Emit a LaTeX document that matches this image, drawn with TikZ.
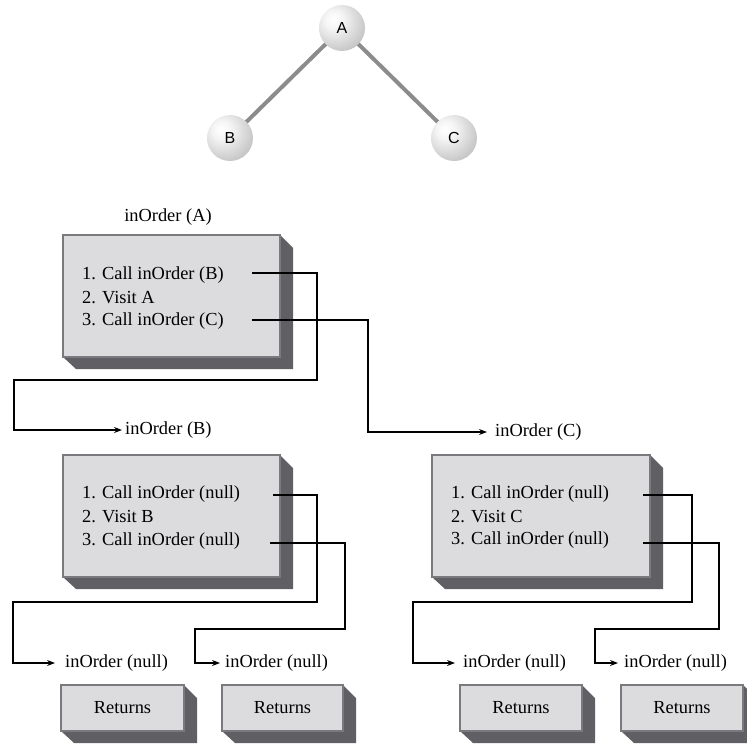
\documentclass[tikz,border=0pt]{standalone}
\usepackage{fontspec}
\setmainfont{Liberation Serif}
\newfontfamily\circfont{Liberation Sans}
\usetikzlibrary{arrows.meta,backgrounds}
\definecolor{facegray}{HTML}{DCDCDE}
\definecolor{edgegray}{HTML}{7A7A7E}
\definecolor{shadowc}{HTML}{5F5F64}
\definecolor{treeedge}{HTML}{8C8C8C}
\pgfdeclareradialshading{myball}{\pgfpoint{-10bp}{10bp}}{%
  color(0bp)=(white); color(10bp)=(white!96!black); color(30bp)=(gray!40); color(48bp)=(gray!68); color(60bp)=(gray!85); color(100bp)=(gray!85)}
\newcommand\ShBox[5]{%
  \fill[shadowc] (#4,#3) -- (#4+13,#3+13) -- (#4+13,#5+12) -- (#2+13,#5+12) -- (#2,#5) -- cycle;
  \node[face, anchor=north west, minimum width=#4-#2, minimum height=#5-#3] (#1) at (#2,#3) {};
}
\tikzset{
  face/.style={fill=facegray, draw=edgegray, line width=1.2pt, inner sep=0pt, outer sep=0pt},
  txt/.style={font=\fontsize{18.4}{22}\selectfont, inner sep=0pt, anchor=west},
  lbl/.style={font=\fontsize{18.4}{22}\selectfont, inner sep=0pt},
  conn/.style={line width=1.1pt, black},
  arr/.style={conn, -{Stealth[length=8pt,width=6pt]}},
  treenode/.style={circle, minimum size=46pt, inner sep=0pt, shading=myball, font=\circfont\fontsize{16}{18}\selectfont},
  treeline/.style={draw=treeedge, line width=4pt}
}
\begin{document}
\begin{tikzpicture}[x=1pt,y=-1pt]
\useasboundingbox (0,0) rectangle (747,744);
% tree
\node[treenode] (A) at (342,28) {A};
\node[treenode] (B) at (230,138) {B};
\node[treenode] (C) at (454,138) {C};
\begin{scope}[on background layer]
\draw[treeline] (A.center) -- (B.center);
\draw[treeline] (A.center) -- (C.center);
\end{scope}

% box A
\node[lbl] (labA) at (168,217) {inOrder (A)};
\ShBox{boxA}{63}{235}{280}{357}
\node[txt] (a1) at (82,275) {1. Call inOrder (B)};
\node[txt] (a2) at (82,298) {2. Visit A};
\node[txt] (a3) at (82,321) {3. Call inOrder (C)};
\coordinate (a1s) at (252,273);
\coordinate (a3s) at (252,320);

% labels B, C
\node[txt] (labB) at (125,430) {inOrder (B)};
\node[txt] (labC) at (495,432) {inOrder (C)};
\draw[arr] (a1s) -- (317,273) -- (317,380) -- (14,380) |- ([xshift=-3pt]labB.west);
\draw[arr] (a3s) -- (368,320) |- ([xshift=-8pt]labC.west);

% box B
\ShBox{boxB}{63}{455}{280}{577}
\node[txt] (b1) at (82,494) {1. Call inOrder (null)};
\node[txt] (b2) at (82,517) {2. Visit B};
\node[txt] (b3) at (82,541) {3. Call inOrder (null)};
\coordinate (b1s) at (273,495);
\coordinate (b3s) at (270,543);

% box C
\ShBox{boxC}{432}{455}{650}{577}
\node[txt] (c1) at (451,494) {1. Call inOrder (null)};
\node[txt] (c2) at (451,517) {2. Visit C};
\node[txt] (c3) at (451,540) {3. Call inOrder (null)};
\coordinate (c1s) at (643,495);
\coordinate (c3s) at (643,543);

% null labels
\node[txt] (nb1) at (65,663) {inOrder (null)};
\node[txt] (nb2) at (225,663) {inOrder (null)};
\node[txt] (nc1) at (463,663) {inOrder (null)};
\node[txt] (nc2) at (624,663) {inOrder (null)};
\draw[arr] (b1s) -- (317,495) -- (317,602) -- (13,602) |- ([xshift=-10pt]nb1.west);
\draw[arr] (b3s) -- (345,543) -- (345,629) -- (195,629) |- ([xshift=-5pt]nb2.west);
\draw[arr] (c1s) -- (692,495) -- (692,602) -- (413,602) |- ([xshift=-8pt]nc1.west);
\draw[arr] (c3s) -- (719,543) -- (719,629) -- (595,629) |- ([xshift=-6pt]nc2.west);

% returns boxes
\ShBox{r1}{61}{685}{184}{731}
\ShBox{r2}{222}{685}{343}{731}
\ShBox{r3}{460}{685}{582}{731}
\ShBox{r4}{621}{685}{743}{731}
\node[lbl] (r1t) at (r1.center) {Returns};
\node[lbl] (r2t) at (r2.center) {Returns};
\node[lbl] (r3t) at (r3.center) {Returns};
\node[lbl] (r4t) at (r4.center) {Returns};
\end{tikzpicture}
\end{document}
